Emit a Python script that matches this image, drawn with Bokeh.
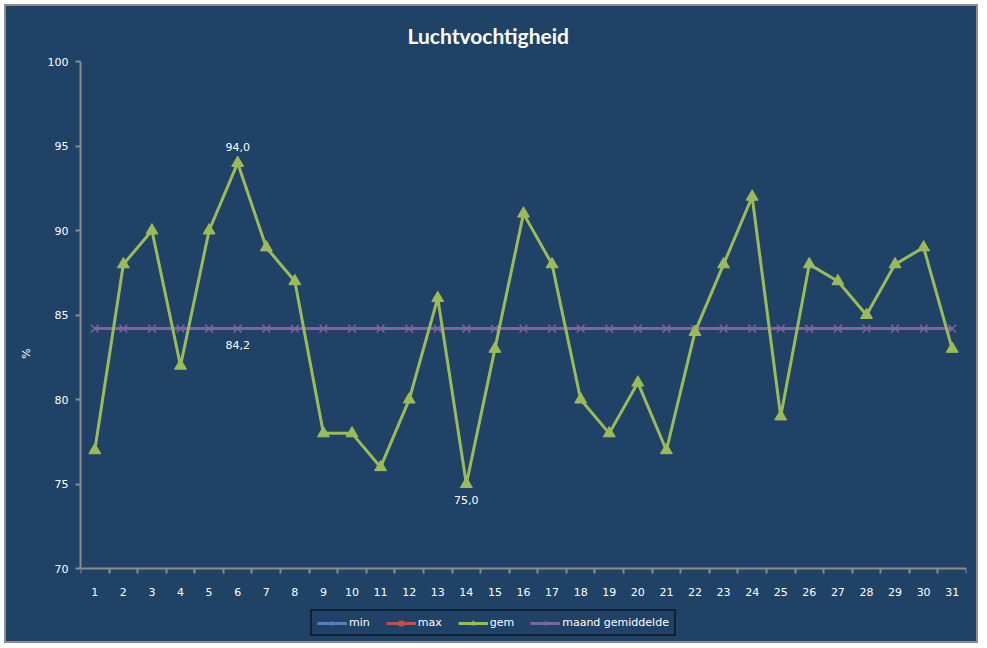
from bokeh.plotting import figure
from bokeh.models import Range1d, FixedTicker, Legend, LegendItem, ColumnDataSource, LinearAxis
from bokeh.core.properties import value
from bokeh.embed import file_html
from bokeh.resources import INLINE

days = list(range(1, 32))
gem = [77, 88, 90, 82, 90, 94, 89, 87, 78, 78, 76, 80, 86, 75, 83, 91,
       88, 80, 78, 81, 77, 84, 88, 92, 79, 88, 87, 85, 88, 89, 83]
mean_val = round(sum(gem) / len(gem), 1)
maand = [mean_val] * len(days)
y_ticks = [70, 75, 80, 85, 90, 95, 100]

BG = "#1f4266"
AX = "#8c8c8c"
GREEN = "#9bbb59"
PURPLE = "#8064a2"
BLUE = "#4f81bd"
RED = "#c0504d"
FONT = "DejaVu Sans"

p = figure(width=974, height=639, output_backend="svg", toolbar_location=None,
           x_range=Range1d(0.5, 31.5), y_range=Range1d(65.45, 100),
           min_border_left=74, min_border_right=14, min_border_top=54,
           min_border_bottom=0, title="Luchtvochtigheid",
           x_axis_location=None)
p.styles = {"margin-left": "4px", "margin-top": "4px",
            "border": "2px solid #8c8c8c", "background-color": BG}
p.background_fill_color = BG
p.border_fill_color = BG
p.outline_line_color = None
p.grid.visible = False

p.title.align = "left"
p.title.offset = 327
p.title.text_color = "white"
p.title.text_font = "Lato"
p.title.text_font_size = "21px"
p.title.text_font_style = "bold"
p.title.standoff = 28

# x axis, fixed at y = 70 inside the extended frame
xaxis = LinearAxis(fixed_location=70)
p.add_layout(xaxis, "below")
xaxis.ticker = FixedTicker(ticks=days, minor_ticks=[d - 0.5 for d in days] + [31.5])
xaxis.major_tick_out = 0
xaxis.major_tick_in = 0
xaxis.minor_tick_out = 5
xaxis.minor_tick_in = 0
xaxis.minor_tick_line_color = AX
xaxis.minor_tick_line_width = 2
xaxis.axis_line_color = AX
xaxis.axis_line_width = 2
xaxis.major_label_text_color = "white"
xaxis.major_label_text_font = FONT
xaxis.major_label_text_font_size = "11px"
xaxis.major_label_standoff = 14

# y axis
p.yaxis.bounds = (70, 100)
p.yaxis.ticker = FixedTicker(ticks=y_ticks)
p.yaxis.minor_tick_line_color = None
p.yaxis.major_tick_out = 5
p.yaxis.major_tick_in = 0
p.yaxis.major_tick_line_color = AX
p.yaxis.major_tick_line_width = 2
p.yaxis.axis_line_color = AX
p.yaxis.axis_line_width = 2
p.yaxis.major_label_text_color = "white"
p.yaxis.major_label_text_font = FONT
p.yaxis.major_label_text_font_size = "11px"
p.yaxis.major_label_standoff = 7
p.yaxis.axis_label = "%"
p.yaxis.axis_label_text_color = "white"
p.yaxis.axis_label_text_font = FONT
p.yaxis.axis_label_text_font_size = "11px"
p.yaxis.axis_label_text_font_style = "normal"
p.yaxis.axis_label_standoff = 12

src = ColumnDataSource(dict(x=days, gem=gem, maand=maand))
nodata = ColumnDataSource(dict(x=[float("nan")], y=[float("nan")]))

# min / max series have no values (legend only)
l_min = p.line("x", "y", source=nodata, line_color=BLUE, line_width=3)
m_min = p.scatter("x", "y", source=nodata, marker="diamond", size=11, color=BLUE)
l_max = p.line("x", "y", source=nodata, line_color=RED, line_width=3)
m_max = p.scatter("x", "y", source=nodata, marker="square", size=9, color=RED)

l_mn = p.line("x", "maand", source=src, line_color=PURPLE, line_width=3)
m_mn = p.scatter("x", "maand", source=src, marker="x", size=11, line_color=PURPLE, line_width=1.5)

l_gem = p.line("x", "gem", source=src, line_color=GREEN, line_width=3)
m_gem = p.scatter("x", "gem", source=src, marker="triangle", size=12, color=GREEN)

# data labels
imax = gem.index(max(gem))
imin = gem.index(min(gem))
fmt = lambda v: f"{v:.1f}".replace(".", ",")
p.text(x=[days[imax]], y=[gem[imax]], text=[fmt(gem[imax])], y_offset=-12,
       text_baseline="bottom", text_align="center", text_color="white",
       text_font=value(FONT), text_font_size="11px")
p.text(x=[days[imin], days[imax]], y=[gem[imin], mean_val],
       text=[fmt(gem[imin]), fmt(mean_val)], y_offset=12,
       text_baseline="top", text_align="center", text_color="white",
       text_font=value(FONT), text_font_size="11px")

legend = Legend(items=[
    LegendItem(label="min", renderers=[l_min, m_min]),
    LegendItem(label="max", renderers=[l_max, m_max]),
    LegendItem(label="gem", renderers=[l_gem, m_gem]),
    LegendItem(label="maand gemiddelde", renderers=[l_mn, m_mn]),
], orientation="horizontal", location=(230, 9))
legend.background_fill_alpha = 0
legend.border_line_color = "black"
legend.border_line_width = 2
legend.label_text_color = "white"
legend.label_text_font = FONT
legend.label_text_font_size = "11px"
legend.glyph_width = 30
legend.glyph_height = 12
legend.label_standoff = 2
legend.spacing = 16
legend.padding = 5
legend.margin = 0
legend.label_height = 12
p.add_layout(legend, "center")

open("out.html", "w").write(file_html(p, INLINE))
